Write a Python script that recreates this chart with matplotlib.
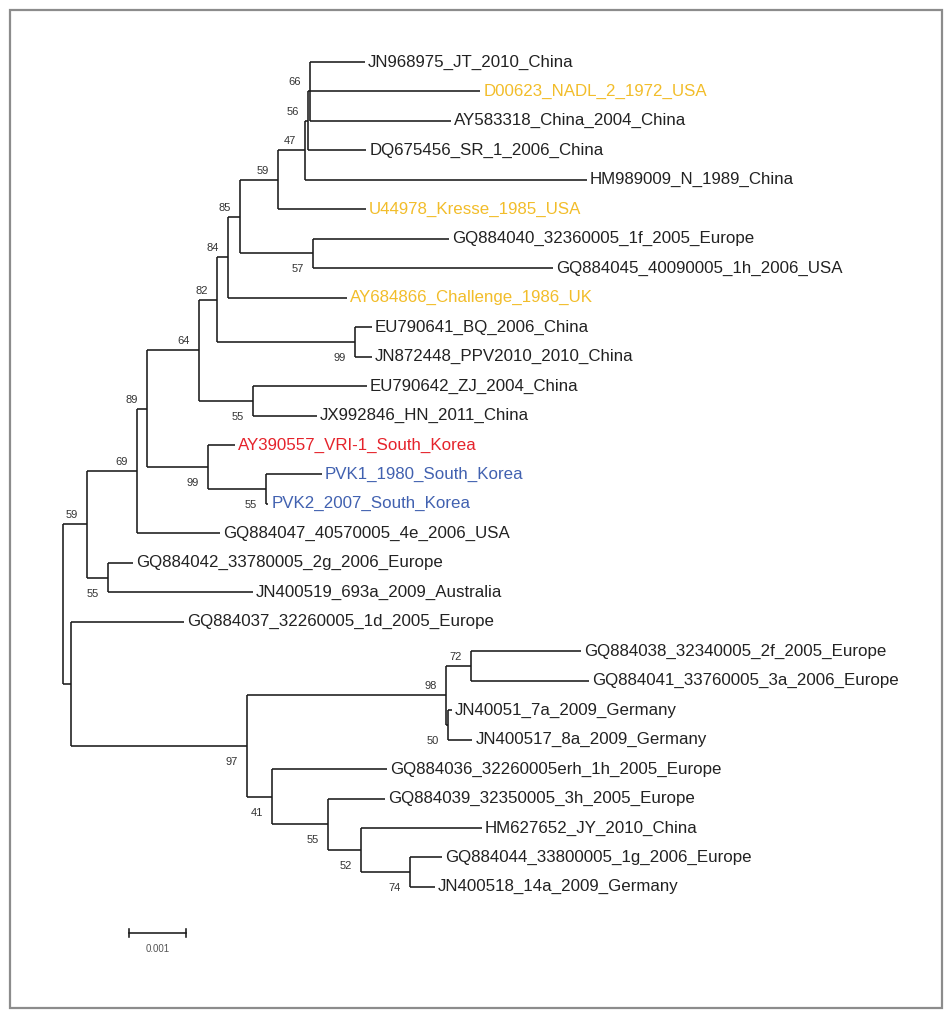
import matplotlib
matplotlib.use('Agg')
import matplotlib.pyplot as plt
from matplotlib.patches import Rectangle

plt.rcParams['font.family'] = ['Liberation Sans', 'DejaVu Sans']

# tips, top to bottom, with distance from root (substitutions/site)
tips = ['JN968975_JT_2010_China', 'D00623_NADL_2_1972_USA', 'AY583318_China_2004_China',
        'DQ675456_SR_1_2006_China', 'HM989009_N_1989_China', 'U44978_Kresse_1985_USA',
        'GQ884040_32360005_1f_2005_Europe', 'GQ884045_40090005_1h_2006_USA',
        'AY684866_Challenge_1986_UK', 'EU790641_BQ_2006_China', 'JN872448_PPV2010_2010_China',
        'EU790642_ZJ_2004_China', 'JX992846_HN_2011_China', 'AY390557_VRI-1_South_Korea',
        'PVK1_1980_South_Korea', 'PVK2_2007_South_Korea', 'GQ884047_40570005_4e_2006_USA',
        'GQ884042_33780005_2g_2006_Europe', 'JN400519_693a_2009_Australia',
        'GQ884037_32260005_1d_2005_Europe', 'GQ884038_32340005_2f_2005_Europe',
        'GQ884041_33760005_3a_2006_Europe', 'JN40051_7a_2009_Germany',
        'JN400517_8a_2009_Germany', 'GQ884036_32260005erh_1h_2005_Europe',
        'GQ884039_32350005_3h_2005_Europe', 'HM627652_JY_2010_China',
        'GQ884044_33800005_1g_2006_Europe', 'JN400518_14a_2009_Germany']
tip_depth = [0.00530, 0.00732, 0.00681, 0.00532, 0.00919, 0.00532, 0.00677, 0.00860,
             0.00498, 0.00542, 0.00542, 0.00533, 0.00446, 0.00302, 0.00454, 0.00360,
             0.00275, 0.00123, 0.00333, 0.00212, 0.00909, 0.00923, 0.00682, 0.00718,
             0.00568, 0.00565, 0.00735, 0.00665, 0.00653]
tip_group = ['', 'ref', '', '', '', 'ref', '', '', 'ref', '', '', '', '', 'vri',
             'pvk', 'pvk', '', '', '', '', '', '', '', '', '', '', '', '', '']
group_color = {'': '#222222', 'ref': '#f2bd2a', 'vri': '#e5232b', 'pvk': '#4161b0'}

# internal nodes (children listed top to bottom), depth, bootstrap, label side
node_ids = ['n66', 'n56', 'n47', 'n59', 'n57', 'n85', 'n84', 'n99a', 'n82', 'n55a', 'n64',
            'n55d', 'n99b', 'n89', 'n69', 'n55b', 'n59b', 'n72', 'n50', 'n98', 'n74',
            'n52', 'n55c', 'n41', 'n97', 'nL', 'root']
node_children = [
    ['JN968975_JT_2010_China', 'D00623_NADL_2_1972_USA', 'AY583318_China_2004_China'],
    ['n66', 'DQ675456_SR_1_2006_China'],
    ['n56', 'HM989009_N_1989_China'],
    ['n47', 'U44978_Kresse_1985_USA'],
    ['GQ884040_32360005_1f_2005_Europe', 'GQ884045_40090005_1h_2006_USA'],
    ['n59', 'n57'],
    ['n85', 'AY684866_Challenge_1986_UK'],
    ['EU790641_BQ_2006_China', 'JN872448_PPV2010_2010_China'],
    ['n84', 'n99a'],
    ['EU790642_ZJ_2004_China', 'JX992846_HN_2011_China'],
    ['n82', 'n55a'],
    ['PVK1_1980_South_Korea', 'PVK2_2007_South_Korea'],
    ['AY390557_VRI-1_South_Korea', 'n55d'],
    ['n64', 'n99b'],
    ['n89', 'GQ884047_40570005_4e_2006_USA'],
    ['GQ884042_33780005_2g_2006_Europe', 'JN400519_693a_2009_Australia'],
    ['n69', 'n55b'],
    ['GQ884038_32340005_2f_2005_Europe', 'GQ884041_33760005_3a_2006_Europe'],
    ['JN40051_7a_2009_Germany', 'JN400517_8a_2009_Germany'],
    ['n72', 'n50'],
    ['GQ884044_33800005_1g_2006_Europe', 'JN400518_14a_2009_Germany'],
    ['HM627652_JY_2010_China', 'n74'],
    ['GQ884039_32350005_3h_2005_Europe', 'n52'],
    ['GQ884036_32260005erh_1h_2005_Europe', 'n55c'],
    ['n98', 'n41'],
    ['GQ884037_32260005_1d_2005_Europe', 'n97'],
    ['n59b', 'nL']]
node_depth = [0.004333, 0.004298, 0.004246, 0.003772, 0.004386, 0.003105, 0.002895, 0.005123,
              0.002702, 0.003333, 0.002386, 0.003561, 0.002544, 0.001474, 0.001298, 0.000789,
              0.000420, 0.007158, 0.006754, 0.006719, 0.006088, 0.005228, 0.004649, 0.003667,
              0.003228, 0.000140, 0.0]
node_support = ['66', '56', '47', '59', '57', '85', '84', '99', '82', '55', '64',
                '55', '99', '89', '69', '55', '59', '72', '50', '98', '74',
                '52', '55', '41', '97', '', '']
node_side = ['a', 'a', 'a', 'a', 'b', 'a', 'a', 'b', 'a', 'b', 'a',
             'b', 'b', 'a', 'a', 'b', 'a', 'a', 'b', 'a', 'b',
             'b', 'b', 'b', 'b', '', '']

fig = plt.figure(figsize=(9.52, 10.16), dpi=100)
ax = fig.add_axes([0, 0, 1, 1])
px_per_unit = 57000.0
x0 = 63.0
row0, row_h = 62.0, 29.46
ax.set_xlim(-x0 / px_per_unit, (952 - x0) / px_per_unit)
ax.set_ylim((1016 - row0) / row_h, -row0 / row_h)
ax.axis('off')

pos = {}
for i, t in enumerate(tips):
    pos[t] = (tip_depth[i], float(i))
for nid, ch, d in zip(node_ids, node_children, node_depth):
    pos[nid] = (d, (pos[ch[0]][1] + pos[ch[-1]][1]) / 2)

lw = 1.15
for nid, ch, sup, side in zip(node_ids, node_children, node_support, node_side):
    nx, ny = pos[nid]
    ax.plot([nx, nx], [pos[ch[0]][1], pos[ch[-1]][1]], color='#1a1a1a', lw=lw,
            solid_capstyle='butt')
    for c in ch:
        ax.plot([nx, pos[c][0]], [pos[c][1], pos[c][1]], color='#1a1a1a', lw=lw,
                solid_capstyle='butt')
    if sup:
        off = (-15, 9) if side == 'a' else (-15, -16)
        ax.annotate(sup, (nx, ny), xytext=off, textcoords='offset pixels',
                    ha='center', va='center', fontsize=8, color='#333333')

for i, t in enumerate(tips):
    ax.annotate(t, pos[t], xytext=(3, 0), textcoords='offset pixels', ha='left',
                va='center', fontsize=12.2, color=group_color[tip_group[i]])

# scale bar
sb_x = (129 - x0) / px_per_unit
sb_y = (933 - row0) / row_h
sb_len = 0.001
ax.plot([sb_x, sb_x + sb_len], [sb_y, sb_y], color='#1a1a1a', lw=lw)
for xx in (sb_x, sb_x + sb_len):
    ax.plot([xx, xx], [sb_y - 0.14, sb_y + 0.14], color='#1a1a1a', lw=lw)
ax.annotate('0.001', (sb_x + sb_len / 2, sb_y), xytext=(0, -16), textcoords='offset pixels',
            ha='center', va='center', fontsize=7, color='#555555')

fig.patches.append(Rectangle((10 / 952, 1 - 1008 / 1016), 932 / 952, 998 / 1016,
                             transform=fig.transFigure, fill=False, ec='#8c8c8c', lw=1.6))

fig.savefig('out.png', dpi=100)
